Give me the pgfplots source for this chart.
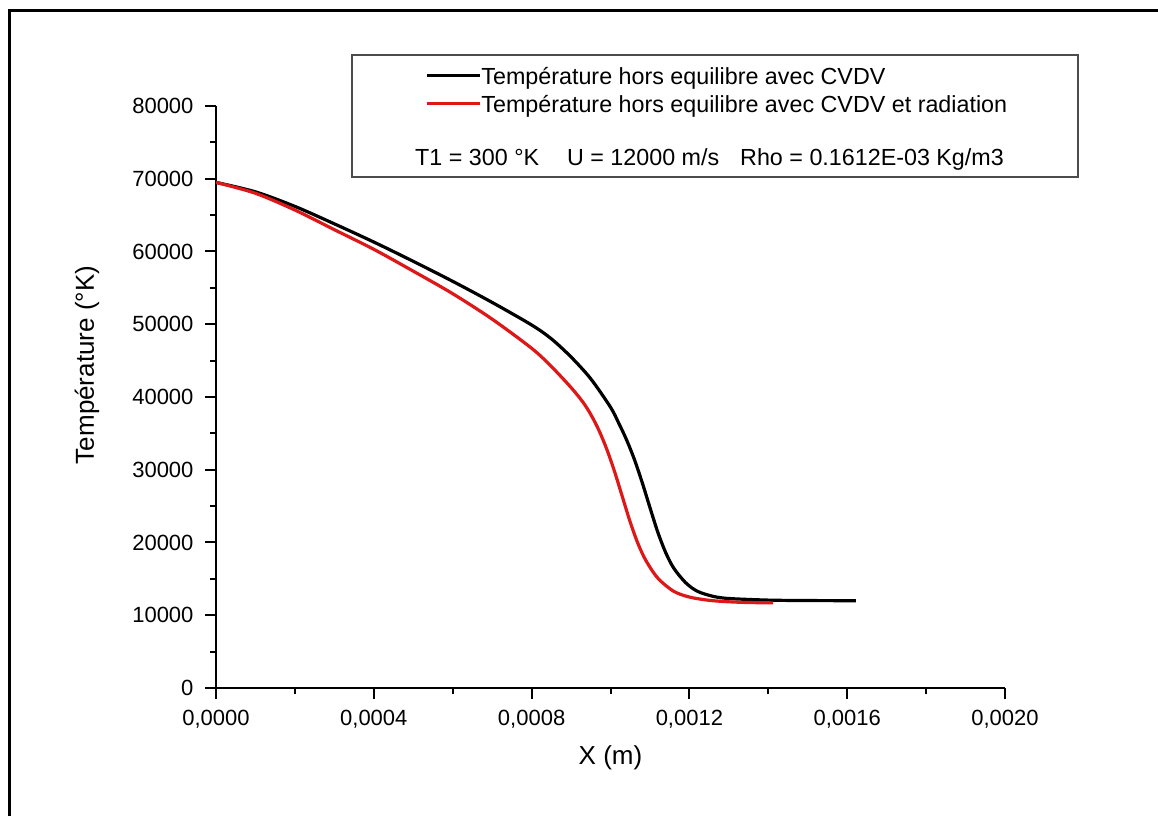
\documentclass[border=0pt]{standalone}
\usepackage{fontspec}
\setmainfont{Liberation Sans}
\usepackage{pgfplots}
\pgfplotsset{compat=1.18}
\definecolor{cred}{RGB}{222,24,24}
\begin{document}
\begin{tikzpicture}[x=1pt,y=1pt]
\useasboundingbox (0,0) rectangle (1158,816);
\draw[line width=3pt] (9,0) -- (9,805) -- (1158,805);
\begin{axis}[
  at={(216pt,128pt)}, anchor=south west, scale only axis,
  width=789pt, height=582pt,
  xmin=0, xmax=0.002, ymin=0, ymax=80000,
  axis lines*=left,
  axis line style={line width=2.5pt, black},
  xtick={0,0.0004,0.0008,0.0012,0.0016,0.002},
  ytick={0,10000,20000,30000,40000,50000,60000,70000,80000},
  minor x tick num=1, minor y tick num=1,
  tick align=outside, major tick length=11pt, minor tick length=6pt,
  every tick/.style={line width=2pt, black},
  scaled x ticks=false, scaled y ticks=false,
  /pgf/number format/assume math mode=true,
  xticklabel style={yshift=-8pt, /pgf/number format/.cd, fixed, fixed zerofill, precision=4, use comma, assume math mode=true},
  yticklabel style={xshift=-8pt, /pgf/number format/.cd, fixed, 1000 sep={}, assume math mode=true},
  tick label style={font=\fontsize{22}{26}\selectfont},
  xlabel={X (m)}, ylabel={Température (°K)},
  label style={font=\fontsize{26}{31}\selectfont},
  xlabel style={at={(axis description cs:0.5,-0.1203)}, anchor=center},
  ylabel style={at={(axis description cs:-0.1635,0.555)}, anchor=center},
  legend cell align=left,
  legend image code/.code={\draw[#1] (0pt,0.3em) -- (53pt,0.3em);},
  legend style={at={(axis description cs:0.2649,1.067)}, anchor=north west, draw=none, fill=none,
    inner sep=0pt, row sep=6pt, font=\fontsize{23.3}{28}\selectfont,
    nodes={inner sep=0pt, text height=17pt, text depth=5pt},
    /tikz/every even column/.style={column sep=5pt}},
]
\addplot[black, line width=3.2pt, smooth, tension=0.5] coordinates {
(0,69500) (0.0001,68200) (0.0002,66200) (0.0003,63800) (0.0004,61300) (0.0005,58650)
(0.0006,55900) (0.0007,53000) (0.0008,49900) (0.00085,48000) (0.0009,45500) (0.00095,42500)
(0.001,38600) (0.00102,36500) (0.00104,34200) (0.00106,31500) (0.00108,28300) (0.0011,24800)
(0.00112,21400) (0.00114,18600) (0.00116,16500) (0.00119,14500) (0.00122,13300) (0.00126,12600)
(0.0013,12300) (0.0014,12080) (0.0015,12020) (0.001622,12000)};
\addlegendentry{Température hors equilibre avec CVDV}
\addplot[cred, line width=3.2pt, smooth, tension=0.5] coordinates {
(0,69500) (0.0001,68000) (0.0002,65700) (0.0003,63000) (0.0004,60300) (0.0005,57300)
(0.0006,54200) (0.0007,50700) (0.0008,46700) (0.00085,44200) (0.0009,41300) (0.00093,39300)
(0.00095,37600) (0.00097,35500) (0.00099,32900) (0.00101,29800) (0.00103,26300) (0.00105,22800)
(0.00107,19800) (0.00109,17500) (0.00112,15100) (0.00116,13300) (0.0012,12500) (0.00125,12050)
(0.0013,11850) (0.00135,11750) (0.001412,11700)};
\addlegendentry{Température hors equilibre avec CVDV et radiation}
\end{axis}
\draw[line width=1.5pt, black!70] (352,761) rectangle (1078,639);
\node[anchor=base west, inner sep=0pt, font=\fontsize{23.3}{28}\selectfont] at (415,650)
  {T1 = 300 °K\hspace{1.2em}U = 12000 m/s\hspace{0.9em}Rho = 0.1612E-03 Kg/m3};
\end{tikzpicture}
\end{document}
